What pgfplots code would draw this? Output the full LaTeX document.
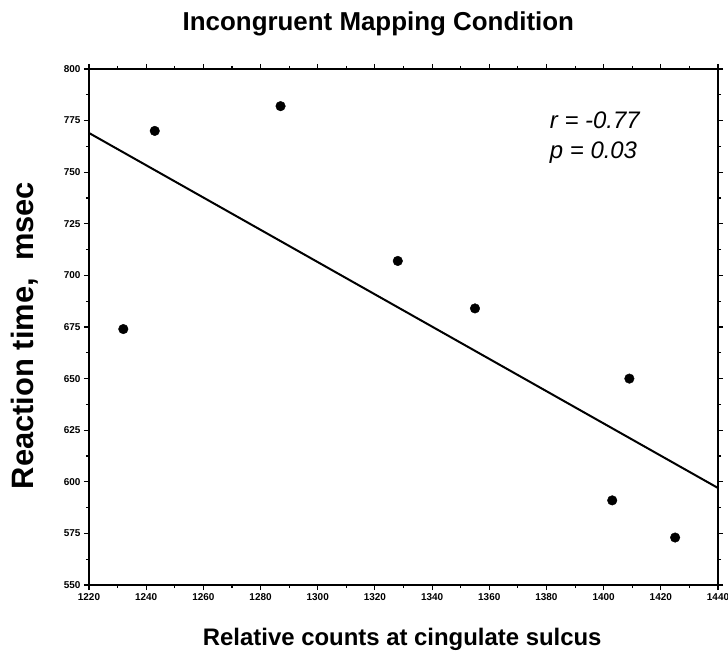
\documentclass[border=0pt]{standalone}
\usepackage{pgfplots}
\pgfplotsset{compat=1.18}
\usepackage{fontspec}
\setmainfont{Liberation Sans}

\begin{document}
\begin{tikzpicture}
\begin{axis}[
    scale only axis,
    width=629bp, height=516bp,
    xmin=1220, xmax=1440,
    ymin=550, ymax=800,
    xtick={1220,1240,...,1440},
    ytick={550,575,...,800},
    minor x tick num=1,
    minor y tick num=1,
    tick align=outside,
    major tick length=5bp,
    minor tick length=3bp,
    axis line style={line width=1.6bp},
    every tick/.style={black, line width=1.1bp},
    /pgf/number format/assume math mode=true,
    /pgf/number format/1000 sep={},
    tick label style={font=\fontsize{10}{12}\selectfont\bfseries},
    title={Incongruent Mapping Condition},
    title style={font=\fontsize{26}{28}\selectfont\bfseries,
        at={(axis description cs:0.46,1)}, anchor=base, yshift=33bp},
    xlabel={Relative counts at cingulate sulcus},
    xlabel style={font=\fontsize{24}{26}\selectfont\bfseries,
        at={(axis description cs:0.498,0)}, anchor=base, yshift=-60bp},
    ylabel={Reaction time,\ \ msec},
    ylabel style={font=\fontsize{31}{33}\selectfont\bfseries,
        at={(axis description cs:-0.089,0.4835)}, anchor=base},
    clip=false,
]
\coordinate (O) at (rel axis cs:0,0);
% regression line
\addplot[black, line width=2bp] coordinates {(1220,769) (1440,597)};
% subjects
\addplot[only marks, mark=*, mark size=4.8bp, black] coordinates {
    (1232,674) (1243,770) (1287,782) (1328,707)
    (1355,684) (1403,591) (1409,650) (1425,573)
};
\node[anchor=base west, font=\fontsize{24}{26}\selectfont\itshape] at (axis cs:1380,771.4) {r = -0.77};
\node[anchor=base west, font=\fontsize{24}{26}\selectfont\itshape] at (axis cs:1380,756.4) {p = 0.03};
\end{axis}
\pgfresetboundingbox
\path (O) ++(-89bp,-66bp) rectangle ++(728bp,651bp);
\end{tikzpicture}
\end{document}
